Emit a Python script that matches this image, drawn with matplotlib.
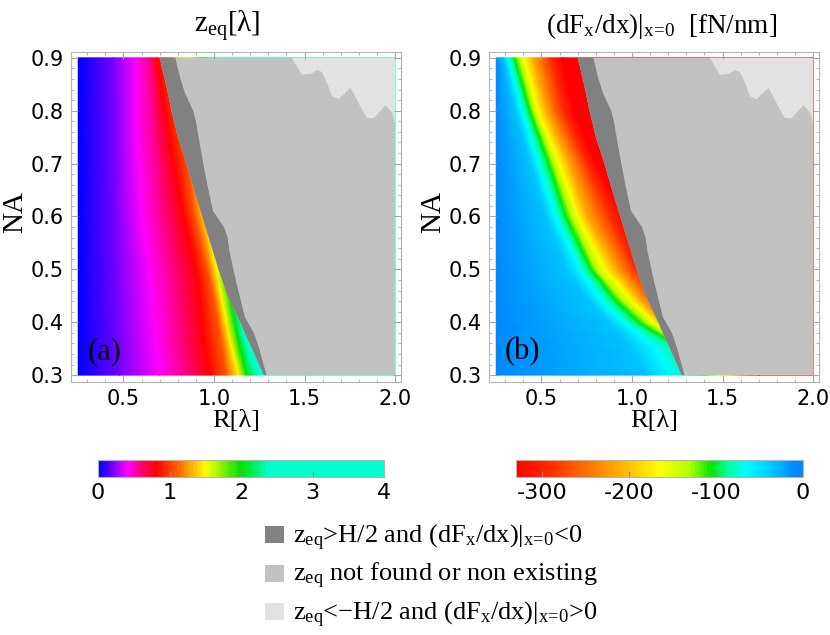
import numpy as np
import matplotlib
matplotlib.use('Agg')
import matplotlib.pyplot as plt
from matplotlib.colors import LinearSegmentedColormap
from matplotlib.patches import Rectangle
import matplotlib.ticker as mticker

plt.rcParams['mathtext.fontset'] = 'custom'
plt.rcParams['mathtext.rm'] = 'Liberation Serif'
plt.rcParams['mathtext.it'] = 'Liberation Serif:italic'
plt.rcParams['mathtext.bf'] = 'Liberation Serif:bold'
plt.rcParams['axes.unicode_minus'] = False
SERIF = 'Liberation Serif'

# region boundaries (same for both panels)
edge_na = [0.30, 0.35, 0.38, 0.40, 0.45, 0.50, 0.55, 0.60, 0.65, 0.70, 0.75, 0.80, 0.85, 0.90]
edge_r = [1.275, 1.21, 1.17, 1.145, 1.075, 1.025, 0.98, 0.935, 0.89, 0.848, 0.80, 0.765, 0.735, 0.70]

dark_na = [0.30, 0.35, 0.38, 0.41, 0.48, 0.535, 0.56, 0.58, 0.61, 0.665, 0.72, 0.78, 0.80, 0.833, 0.86, 0.90]
dark_r = [1.29, 1.25, 1.22, 1.17, 1.12, 1.085, 1.075, 1.055, 0.995, 0.96, 0.93, 0.90, 0.885, 0.84, 0.815, 0.786]

light_r = [1.43, 1.457, 1.485, 1.54, 1.568, 1.596, 1.624, 1.652, 1.689, 1.726, 1.754, 1.78,
           1.82, 1.846, 1.883, 1.92, 1.948, 1.985, 2.0]
light_na = [0.90, 0.884, 0.868, 0.87, 0.877, 0.873, 0.853, 0.827, 0.822, 0.834, 0.843, 0.827,
            0.80, 0.786, 0.786, 0.80, 0.81, 0.796, 0.776]

# panel (a): z_eq, R position of each level along a few NA rows
za_rows = [0.30, 0.38, 0.48, 0.61, 0.76, 0.90]
za_levels = [0, 0.2, 0.4, 0.55, 0.8, 1.1, 1.5, 2.0, 2.4, 4.0]
za_colors = ['#0000ff', '#8000ff', '#ff00ff', '#ff0090', '#ff0000', '#ff6000',
             '#ffff00', '#00e000', '#00ffcc', '#00ffd2']
za_r = [
    [0.25, 0.48, 0.70, 0.82, 0.98, 1.07, 1.136, 1.18, 1.236, 2.0],
    [0.25, 0.47, 0.675, 0.79, 0.942, 1.034, 1.08, 1.125, 1.16, 2.0],
    [0.25, 0.46, 0.65, 0.76, 0.915, 0.98, 1.025, 1.075, 1.12, 2.0],
    [0.25, 0.45, 0.60, 0.70, 0.83, 0.89, 0.96, 1.02, 1.08, 2.0],
    [0.25, 0.445, 0.575, 0.66, 0.75, 0.84, 0.92, 0.99, 1.05, 2.0],
    [0.25, 0.44, 0.57, 0.64, 0.685, 0.76, 0.85, 0.93, 1.00, 2.0],
]
za_ticks = [0, 1, 2, 3, 4]

# panel (b): dFx/dx in fN/nm
fb_rows = [0.30, 0.35, 0.376, 0.40, 0.44, 0.50, 0.60, 0.70, 0.80, 0.90]
fb_levels = [-8, -35, -65, -85, -105, -130, -165, -210, -250, -290, -330, -330]
fb_r = [
    [0.25, 1.08, 1.22, 1.33, 1.40, 1.45, 1.50, 1.55, 1.60, 1.65, 1.70, 2.0],
    [0.25, 1.00, 1.13, 1.24, 1.30, 1.35, 1.40, 1.45, 1.50, 1.55, 1.60, 2.0],
    [0.25, 0.94, 1.04, 1.11, 1.15, 1.19, 1.23, 1.27, 1.31, 1.35, 1.40, 2.0],
    [0.25, 0.87, 0.95, 1.00, 1.04, 1.08, 1.12, 1.17, 1.21, 1.25, 1.30, 2.0],
    [0.25, 0.76, 0.83, 0.88, 0.915, 0.95, 1.00, 1.05, 1.10, 1.15, 1.20, 2.0],
    [0.25, 0.64, 0.71, 0.745, 0.775, 0.80, 0.85, 0.91, 0.965, 1.02, 1.08, 2.0],
    [0.25, 0.525, 0.575, 0.61, 0.635, 0.665, 0.70, 0.75, 0.815, 0.88, 0.96, 2.0],
    [0.25, 0.44, 0.48, 0.515, 0.54, 0.565, 0.60, 0.65, 0.70, 0.75, 0.80, 2.0],
    [0.25, 0.355, 0.39, 0.415, 0.435, 0.455, 0.48, 0.525, 0.57, 0.62, 0.68, 2.0],
    [0.25, 0.29, 0.315, 0.335, 0.35, 0.375, 0.405, 0.45, 0.50, 0.55, 0.61, 2.0],
]
fb_cvals = [-330, -290, -250, -210, -165, -130, -105, -85, -65, -35, -8, 0]
fb_colors = ['#ff0000', '#ff3000', '#ff7000', '#ffb000', '#ffff00', '#b0ff00',
             '#00e800', '#00ffa0', '#00ffff', '#00c8ff', '#0088ff', '#0084ff']
fb_ticks = [-300, -200, -100, 0]

SUB0 = r'$_{\mathrm{x}\!=\!\mathrm{0}}$'
legend_labels = [
    r'z$_{\mathrm{eq}}$>H/2 and (dF$_{\mathrm{x}}$/dx)|' + SUB0 + '<0',
    r'z$_{\mathrm{eq}}$ not found or non existing',
    'z$_{\\mathrm{eq}}$<\u2212H/2 and (dF$_{\\mathrm{x}}$/dx)|' + SUB0 + '>0',
]
DARK, MID, LIGHT = '#818181', '#c2c2c2', '#e2e2e2'
legend_colors = [DARK, MID, LIGHT]

W, H = 830, 635


def box(x0, y0, x1, y1):
    return [x0 / W, 1 - y1 / H, (x1 - x0) / W, (y1 - y0) / H]


def make_cmap(vals, cols, n=90):
    v = np.array(vals, float)
    v = (v - v.min()) / (v.max() - v.min())
    return LinearSegmentedColormap.from_list('c', list(zip(v, cols)), N=n)


def draw_panel(ax, rows, levels, rpos, cmap, vmin, vmax):
    R = np.array(rpos)
    NA = np.repeat(np.array(rows)[:, None], R.shape[1], axis=1)
    C = np.repeat(np.array(levels, float)[None, :], R.shape[0], axis=0)
    m = ax.pcolormesh(R, NA, C, shading='gouraud', cmap=cmap, vmin=vmin, vmax=vmax)
    ax.fill(np.r_[edge_r, 2.0, 2.0], np.r_[edge_na, 0.9, 0.3], color=MID, lw=0)
    ax.fill(np.r_[edge_r, dark_r[::-1]], np.r_[edge_na, dark_na[::-1]], color=DARK, lw=0)
    ax.fill(np.r_[light_r, 2.0], np.r_[light_na, 0.9], color=LIGHT, lw=0)
    ax.set_xlim(0.21, 2.033)
    ax.set_ylim(0.287, 0.911)
    ax.xaxis.set_major_locator(mticker.FixedLocator([0.5, 1.0, 1.5, 2.0]))
    ax.xaxis.set_minor_locator(mticker.MultipleLocator(0.1))
    ax.yaxis.set_major_locator(mticker.MultipleLocator(0.1))
    ax.yaxis.set_minor_locator(mticker.MultipleLocator(0.02))
    ax.xaxis.set_major_formatter(mticker.FormatStrFormatter('%.1f'))
    ax.yaxis.set_major_formatter(mticker.FormatStrFormatter('%.1f'))
    ax.tick_params(which='both', direction='in', top=True, right=True, color='#a8a8a8')
    ax.tick_params(which='major', length=5, width=0.8, labelsize=15, pad=5)
    ax.tick_params(which='minor', length=2.5, width=0.6)
    for s in ax.spines.values():
        s.set_color('#b4b4b4')
        s.set_linewidth(0.8)
    ax.set_xlabel('R[\u03bb]', family=SERIF, fontsize=19)
    ax.set_ylabel('NA', family=SERIF, fontsize=21)
    ax.xaxis.set_label_coords(0.5, -0.085)
    ax.yaxis.set_label_coords(-0.13, 0.515)
    return m


fig = plt.figure(figsize=(W / 100, H / 100), dpi=100)

ax1 = fig.add_axes(box(71, 52, 401, 382))
m1 = draw_panel(ax1, za_rows, za_levels, za_r, make_cmap(za_levels, za_colors), 0, 4)
ax1.text(0.394, 0.345, '(a)', family=SERIF, fontsize=22, ha='center', va='center')

ax2 = fig.add_axes(box(489, 52, 819, 382))
m2 = draw_panel(ax2, fb_rows, fb_levels, fb_r, make_cmap(fb_cvals, fb_colors), -330, 0)
ax2.text(0.394, 0.345, '(b)', family=SERIF, fontsize=22, ha='center', va='center')

fig.text(227 / W, 1 - 33 / H, 'z$_{\\mathrm{eq}}$[\u03bb]',
         family=SERIF, fontsize=21, ha='center', va='baseline')
fig.text(662 / W, 1 - 33 / H, r'(dF$_{\mathrm{x}}$/dx)|' + SUB0 + '  [fN/nm]',
         family=SERIF, fontsize=19.5, ha='center', va='baseline')

# colorbars
for m, rect, ticks in [(m1, box(98, 460, 384, 477), za_ticks),
                       (m2, box(516, 460, 803, 477), fb_ticks)]:
    cax = fig.add_axes(rect)
    cb = fig.colorbar(m, cax=cax, orientation='horizontal')
    cb.set_ticks(ticks)
    cb.set_ticklabels([str(t) for t in ticks])
    cb.outline.set_edgecolor('#b4b4b4')
    cb.outline.set_linewidth(0.8)
    cax.tick_params(direction='in', color='#888888', length=4, width=0.8, labelsize=16, pad=4)

# legend
for i, (lab, col) in enumerate(zip(legend_labels, legend_colors)):
    yb = 543 + i * 38.5
    fig.add_artist(Rectangle((265 / W, 1 - yb / H), 19 / W, 17 / H,
                             transform=fig.transFigure, color=col, lw=0))
    fig.text(293 / W, 1 - yb / H, lab, family=SERIF, fontsize=19, va='baseline', ha='left')

fig.savefig('out.png', dpi=100)
